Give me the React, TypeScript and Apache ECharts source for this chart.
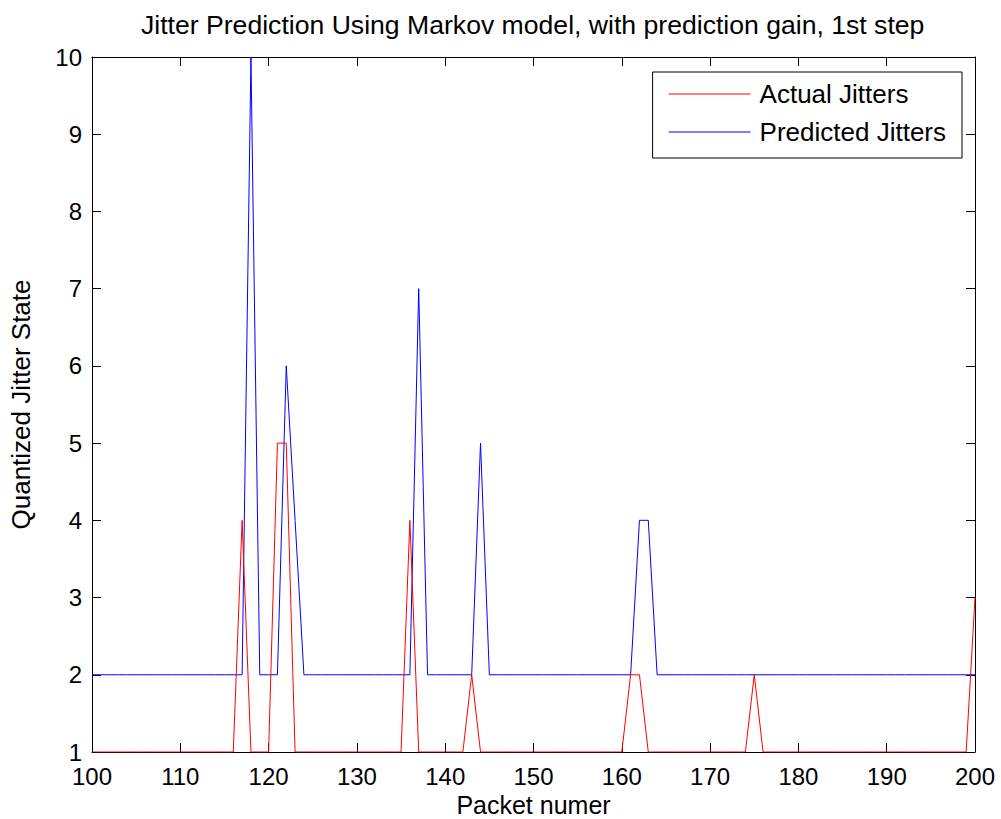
import React, { useEffect, useRef } from "react";
import * as echarts from "echarts";

const titleText = "Jitter Prediction Using Markov model, with prediction gain, 1st step";
const xName = "Packet numer";
const yName = "Quantized Jitter State";
const seriesNames = ["Actual Jitters", "Predicted Jitters"];
const firstPacket = 100;

// values for packets 100..200
const actualJitters = [
  1, 1, 1, 1, 1, 1, 1, 1, 1, 1,
  1, 1, 1, 1, 1, 1, 1, 4, 1, 1,
  1, 5, 5, 1, 1, 1, 1, 1, 1, 1,
  1, 1, 1, 1, 1, 1, 4, 1, 1, 1,
  1, 1, 1, 2, 1, 1, 1, 1, 1, 1,
  1, 1, 1, 1, 1, 1, 1, 1, 1, 1,
  1, 2, 2, 1, 1, 1, 1, 1, 1, 1,
  1, 1, 1, 1, 1, 2, 1, 1, 1, 1,
  1, 1, 1, 1, 1, 1, 1, 1, 1, 1,
  1, 1, 1, 1, 1, 1, 1, 1, 1, 1,
  3,
];

const predictedJitters = [
  2, 2, 2, 2, 2, 2, 2, 2, 2, 2,
  2, 2, 2, 2, 2, 2, 2, 2, 10, 2,
  2, 2, 6, 4, 2, 2, 2, 2, 2, 2,
  2, 2, 2, 2, 2, 2, 2, 7, 2, 2,
  2, 2, 2, 2, 5, 2, 2, 2, 2, 2,
  2, 2, 2, 2, 2, 2, 2, 2, 2, 2,
  2, 2, 4, 4, 2, 2, 2, 2, 2, 2,
  2, 2, 2, 2, 2, 2, 2, 2, 2, 2,
  2, 2, 2, 2, 2, 2, 2, 2, 2, 2,
  2, 2, 2, 2, 2, 2, 2, 2, 2, 2,
  2,
];

const xMin = 100, xMax = 200, xStep = 10;
const yMin = 1, yMax = 10, yStep = 1;

const FONT = "'Liberation Sans', Arial, Helvetica, sans-serif";

export default function App() {
  const ref = useRef<HTMLDivElement>(null);
  useEffect(() => {
    if (!ref.current) return;
    const chart = echarts.init(ref.current, undefined, { renderer: "svg" });
    const toPairs = (arr: number[]) => arr.map((v, i) => [firstPacket + i, v]);
    const tick = { show: true, inside: true, length: 9, lineStyle: { color: "#000", width: 1 } };
    const axisLine = { show: true, onZero: false, lineStyle: { color: "#000", width: 1 } };
    chart.setOption({
      animation: false,
      backgroundColor: "#fff",
      textStyle: { fontFamily: FONT },
      title: {
        text: titleText,
        left: 141,
        top: 11,
        padding: 0,
        textStyle: { fontFamily: FONT, fontSize: 26.6, fontWeight: "normal", color: "#000" },
      },
      legend: {
        show: true,
        orient: "vertical",
        right: 39,
        top: 72,
        padding: [9, 16, 13, 16],
        itemGap: 12,
        itemWidth: 82,
        itemHeight: 1,
        icon: "rect",
        borderColor: "#000",
        borderWidth: 1,
        borderRadius: 0,
        backgroundColor: "#fff",
        textStyle: { fontFamily: FONT, fontSize: 26, color: "#000", padding: [0, 0, 0, 4] },
        data: seriesNames,
      },
      grid: { left: 92, right: 26, top: 57, bottom: 67, containLabel: false, outerBoundsMode: "none" },
      xAxis: [
        {
          type: "value",
          min: xMin,
          max: xMax,
          interval: xStep,
          name: xName,
          nameLocation: "middle",
          nameGap: 42,
          nameTextStyle: { fontFamily: FONT, fontSize: 25, lineHeight: 20, color: "#000" },
          axisLine,
          axisTick: tick,
          axisLabel: { fontFamily: FONT, fontSize: 24, lineHeight: 20, color: "#000", margin: 14 },
          splitLine: { show: false },
        },
        {
          type: "value",
          position: "top",
          min: xMin,
          max: xMax,
          interval: xStep,
          axisLine,
          axisTick: tick,
          axisLabel: { show: false },
          splitLine: { show: false },
        },
      ],
      yAxis: [
        {
          type: "value",
          min: yMin,
          max: yMax,
          interval: yStep,
          name: yName,
          nameLocation: "middle",
          nameGap: 58,
          nameTextStyle: { fontFamily: FONT, fontSize: 26, color: "#000" },
          axisLine,
          axisTick: tick,
          axisLabel: { fontFamily: FONT, fontSize: 24, lineHeight: 20, color: "#000", margin: 10 },
          splitLine: { show: false },
        },
        {
          type: "value",
          position: "right",
          min: yMin,
          max: yMax,
          interval: yStep,
          axisLine,
          axisTick: tick,
          axisLabel: { show: false },
          splitLine: { show: false },
        },
      ],
      series: [
        {
          name: seriesNames[0],
          type: "line",
          data: toPairs(actualJitters),
          showSymbol: false,
          symbol: "none",
          lineStyle: { color: "#ff0000", width: 1 },
          itemStyle: { color: "#ff0000" },
          z: 3,
        },
        {
          name: seriesNames[1],
          type: "line",
          data: toPairs(predictedJitters),
          showSymbol: false,
          symbol: "none",
          lineStyle: { color: "#0000ff", width: 1 },
          itemStyle: { color: "#0000ff" },
          z: 2,
        },
      ],
    });
    return () => chart.dispose();
  }, []);
  return (
    <div
      ref={ref}
      style={{ position: "absolute", left: 0, top: 0, width: 1001, height: 819, background: "#fff" }}
    />
  );
}
